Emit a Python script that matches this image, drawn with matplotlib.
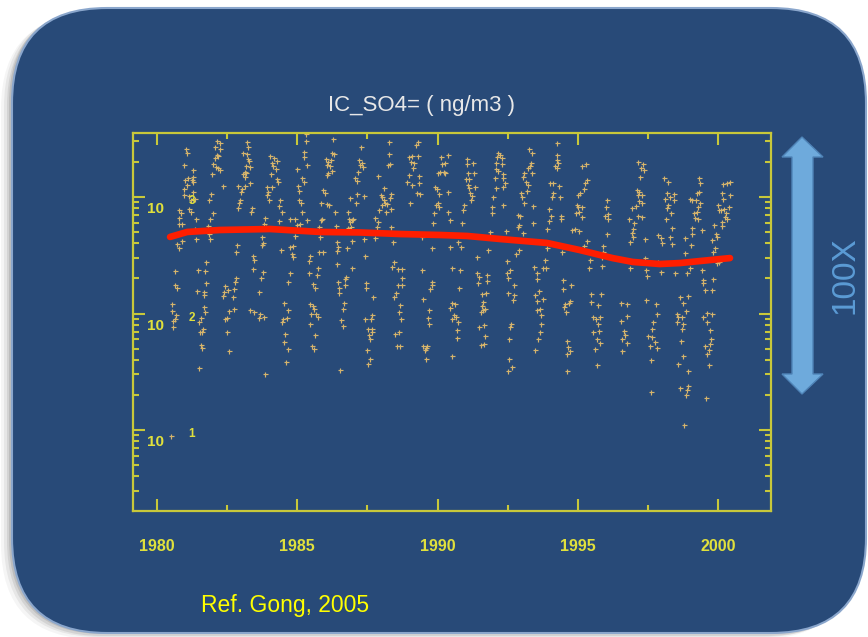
import numpy as np
import matplotlib
matplotlib.use("Agg")
import matplotlib.pyplot as plt
from matplotlib.patches import FancyBboxPatch, Polygon
from matplotlib import transforms
from matplotlib.ticker import FixedLocator, MultipleLocator, LogLocator, NullFormatter

# ---------------- data ----------------
title = "IC_SO4= ( ng/m3 )"
x_ticks = [1980, 1985, 1990, 1995, 2000]
y_ticks = [10, 100, 1000]
ref_text = "Ref. Gong, 2005"
arrow_text = "100X"

years = [
    # 1980/81
    1981.05, 1981.07, 1980.99, 1981.28, 1981.00, 1981.10, 1981.25, 1981.31, 1981.29, 1980.96,
    1980.99, 1981.07, 1981.15, 1981.23, 1981.35, 1981.31, 1980.81, 1980.86, 1981.17, 1981.21,
    1980.79, 1980.78, 1980.90, 1981.41, 1981.38, 1980.72, 1980.80, 1980.90, 1981.42, 1980.66,
    1981.47, 1980.64, 1980.72, 1981.43, 1980.56, 1980.55, 1980.69, 1980.60, 1980.64, 1980.60,
    1980.50,
    # 1981/82
    1982.14, 1982.26, 1982.09, 1982.26, 1982.14, 1982.20, 1982.08, 1982.02, 1982.12, 1982.20,
    1982.24, 1981.98, 1982.36, 1981.95, 1981.86, 1982.02, 1981.90, 1981.82, 1981.87, 1981.90,
    1981.76, 1981.74, 1981.76, 1981.69, 1981.67, 1981.69, 1981.73, 1981.57, 1981.50, 1981.64,
    1981.55, 1981.63, 1981.57, 1981.61, 1981.51,
    # 1982/83
    1983.21, 1983.24, 1983.09, 1983.23, 1983.27, 1983.30, 1983.19, 1983.33, 1983.15, 1983.09,
    1983.19, 1983.13, 1983.33, 1982.99, 1983.03, 1982.97, 1982.95, 1982.90, 1982.88, 1983.14,
    1983.39, 1983.36, 1982.85, 1982.83, 1982.81, 1982.79, 1982.45, 1982.55, 1982.41, 1982.38,
    1982.74, 1982.71, 1982.57, 1982.74, 1982.50, 1982.45, 1982.51, 1982.57, 1983.42, 1983.45,
    1983.42, 1983.77, 1983.70, 1983.64,
    # 1983/84
    1984.02, 1984.18, 1984.30, 1984.11, 1984.16, 1984.25, 1984.06, 1984.28, 1984.31, 1984.10,
    1983.98, 1983.94, 1984.00, 1983.92, 1984.40, 1984.37, 1984.45, 1984.36, 1983.86, 1983.84,
    1983.90, 1983.78, 1983.74, 1983.75, 1983.48, 1983.68, 1983.66, 1983.84, 1983.86, 1983.33,
    # 1984/85
    1984.99, 1985.25, 1985.26, 1985.34, 1985.17, 1985.23, 1985.02, 1985.06, 1985.08, 1985.14,
    1985.17, 1984.94, 1984.75, 1985.00, 1985.37, 1985.11, 1984.93, 1984.85, 1984.75, 1984.81,
    1984.87, 1984.43, 1984.75, 1984.68, 1984.54, 1984.69, 1984.51, 1984.63, 1984.48, 1984.57,
    1984.53, 1984.67, 1984.61, 1985.41, 1985.44, 1985.32, 1985.32,
    # 1985/86
    1986.29, 1986.23, 1986.32, 1986.02, 1986.11, 1986.21, 1986.05, 1986.17, 1986.23, 1986.11,
    1986.06, 1985.94, 1985.99, 1985.84, 1986.05, 1986.13, 1986.35, 1985.90, 1985.85, 1985.79,
    1985.81, 1986.37, 1986.41, 1986.44, 1986.41, 1985.93, 1985.78, 1985.46, 1985.73, 1985.70,
    1986.42, 1985.58, 1985.64, 1986.47, 1986.49, 1986.50, 1985.46, 1985.58, 1985.61, 1985.49,
    1985.69, 1985.73, 1985.46, 1985.64, 1985.54, 1985.60, 1986.53,
    # 1986/87
    1987.26, 1987.20, 1987.30, 1987.24, 1987.36, 1987.18, 1987.06, 1987.15, 1986.88, 1987.12,
    1987.09, 1987.38, 1986.82, 1986.85, 1986.94, 1987.00, 1986.88, 1986.80, 1986.92, 1986.96,
    1986.76, 1987.39, 1987.43, 1986.95, 1986.74, 1986.70, 1986.70, 1987.45, 1987.47, 1986.66,
    1986.64, 1986.58, 1986.64, 1987.69, 1987.41, 1987.63, 1987.65, 1987.51, 1987.65, 1987.68,
    1987.57, 1987.59, 1987.49, 1987.58, 1987.53,
    # 1987/88
    1988.27, 1988.28, 1988.30, 1988.22, 1987.89, 1988.08, 1987.98, 1988.04, 1988.10, 1988.13,
    1988.19, 1988.01, 1987.91, 1988.16, 1988.34, 1988.30, 1988.36, 1987.79, 1987.87, 1987.83,
    1988.36, 1987.77, 1988.42, 1988.44, 1988.39, 1988.58, 1988.74, 1988.72, 1988.60, 1988.73,
    1988.51, 1988.46, 1988.67, 1988.62, 1988.70, 1988.64, 1988.48, 1988.54, 1988.66,
    # 1988/89
    1989.23, 1989.31, 1989.10, 1988.98, 1989.05, 1989.17, 1989.29, 1989.13, 1988.98, 1988.93,
    1989.08, 1989.34, 1989.34, 1989.26, 1989.38, 1989.03, 1989.43, 1989.46, 1989.79, 1989.74,
    1989.81, 1989.47, 1989.69, 1989.67, 1989.68, 1989.50, 1989.59, 1989.64, 1989.55, 1989.60,
    # 1989/90
    1990.11, 1990.36, 1990.26, 1990.17, 1990.26, 1990.08, 1990.00, 1990.24, 1990.36, 1989.91,
    1989.98, 1990.05, 1990.02, 1989.96, 1990.07, 1989.88, 1989.85, 1990.38, 1990.43, 1989.82,
    1990.44, 1990.74, 1990.83, 1990.50, 1990.80, 1990.75, 1990.52, 1990.61, 1990.46, 1990.50,
    1990.57, 1990.64, 1990.74, 1990.69, 1990.70, 1990.53, 1990.95, 1990.89, 1990.88,
    # 1990/91
    1991.04, 1991.06, 1991.25, 1991.10, 1991.30, 1991.01, 1991.13, 1991.33, 1991.08, 1991.13,
    1991.16, 1991.22, 1991.19, 1991.87, 1991.39, 1991.81, 1991.42, 1991.46, 1991.45, 1991.75,
    1991.77, 1991.57, 1991.73, 1991.61, 1991.57, 1991.54, 1991.63, 1991.70, 1991.67, 1991.49,
    1991.69, 1991.65, 1991.54,
    # 1991/92
    1992.16, 1992.22, 1992.10, 1992.28, 1992.08, 1992.28, 1992.08, 1992.16, 1992.32, 1992.34,
    1992.05, 1992.40, 1992.34, 1992.07, 1991.99, 1991.93, 1991.95, 1992.34, 1992.42, 1992.46,
    1992.46, 1992.58, 1992.50, 1992.72, 1992.52, 1992.72, 1992.70, 1992.60, 1992.58, 1992.56,
    1992.56, 1992.64, 1992.50,
    # 1992/93
    1993.24, 1993.35, 1993.31, 1993.29, 1993.23, 1993.35, 1993.08, 1993.03, 1993.15, 1993.23,
    1993.17, 1992.96, 1992.99, 1993.08, 1993.39, 1992.93, 1992.88, 1992.91, 1992.85, 1993.05,
    1993.39, 1992.89, 1992.79, 1993.43, 1993.55, 1993.54, 1993.77, 1993.86, 1993.60, 1993.47,
    1993.55, 1993.53, 1993.65, 1993.77, 1993.68, 1993.67, 1993.65, 1993.56, 1993.46,
    # 1993/94
    1994.24, 1994.26, 1994.24, 1994.29, 1994.18, 1994.24, 1994.12, 1994.00, 1994.12, 1994.06,
    1994.33, 1994.36, 1993.98, 1994.03, 1993.95, 1994.38, 1994.39, 1993.88, 1993.94, 1993.91,
    1993.82, 1994.43, 1994.48, 1994.75, 1994.45, 1994.71, 1994.69, 1994.54, 1994.51, 1994.57,
    1994.62, 1994.65, 1994.71, 1994.60, 1994.60,
    # 1994/95
    1995.28, 1995.13, 1995.31, 1995.25, 1995.21, 1995.07, 1995.01, 1994.95, 1995.01, 1995.13,
    1994.93, 1995.05, 1995.16, 1994.78, 1994.89, 1995.05, 1995.33, 1995.21, 1995.43, 1995.88,
    1995.90, 1995.86, 1995.40, 1995.84, 1995.46, 1995.48, 1995.70, 1995.82, 1995.52, 1995.72,
    1995.78, 1995.64, 1995.54, 1995.76, 1995.66, 1995.78, 1995.60, 1995.66,
    # 1995/96
    1996.02, 1996.00, 1996.06, 1996.08, 1995.96, 1996.02,
    # 1996/97
    1997.15, 1997.33, 1997.25, 1997.36, 1997.21, 1997.09, 1997.17, 1997.29, 1997.13, 1997.17,
    1997.27, 1997.06, 1996.91, 1997.13, 1996.82, 1997.29, 1997.01, 1996.97, 1996.91, 1996.97,
    1996.85, 1997.39, 1997.39, 1996.85, 1997.41, 1997.46, 1996.52, 1996.74, 1996.76, 1996.53,
    1996.65, 1996.68, 1996.58, 1996.74, 1996.56, 1997.43,
    # 1997/98
    1998.06, 1998.22, 1998.16, 1998.10, 1998.28, 1998.43, 1998.40, 1998.22, 1998.16, 1998.31,
    1998.12, 1998.34, 1998.28, 1997.86, 1997.94, 1997.98, 1998.36, 1997.84, 1997.96, 1998.46,
    1997.78, 1997.80, 1997.68, 1997.65, 1997.62, 1997.48, 1997.57, 1997.74, 1997.80, 1997.59,
    1997.60,
    # 1998/99
    1999.29, 1999.34, 1999.31, 1999.23, 1999.07, 1999.19, 1999.00, 1999.34, 1999.26, 1999.23,
    1999.14, 1999.17, 1999.26, 1999.05, 1999.07, 1999.43, 1998.81, 1999.02, 1998.81, 1998.99,
    1998.88, 1999.43, 1999.46, 1999.45, 1998.63, 1998.93, 1998.75, 1998.83, 1998.51, 1998.55,
    1998.69, 1998.72, 1998.51, 1998.69, 1998.66, 1998.72, 1998.55, 1998.91, 1998.63, 1998.93,
    1998.87, 1998.83, 1998.77, 1999.52, 1999.76,
    # 1999/2000
    2000.17, 2000.29, 2000.41, 2000.12, 2000.41, 1999.99, 2000.17, 2000.09, 2000.02, 2000.21,
    2000.38, 2000.26, 2000.23, 2000.29, 2000.12, 2000.12, 1999.85, 1999.90, 1999.94, 1999.78,
    1999.88, 1999.82, 1999.94, 2000.02, 1999.82, 1999.46, 1999.58, 1999.60, 1999.76, 1999.69,
    1999.74, 1999.70, 1999.52, 1999.68, 1999.58, 1999.66, 1999.55,
]

so4 = [
    # 1980/81
    2580, 2370, 1895, 1706, 1410, 1465, 1400, 1355, 1475, 1040,
    1165, 1268, 1020, 942, 955, 1110, 773, 734, 783, 748,
    656, 590, 586, 643, 535, 393, 368, 422, 436, 230,
    234, 176, 167, 155, 121, 106, 97, 87, 90, 77,
    8.9,
    # 1981/82
    3030, 2925, 2703, 2580, 2290, 2245, 2145, 1905, 1821, 1760,
    1706, 1565, 1250, 1067, 948, 724, 643, 567, 485, 440,
    275, 232, 182, 152, 145, 114, 104, 92, 84, 73,
    70, 69, 54, 51, 34,
    # 1982/83
    2945, 2670, 2370, 2340, 2105, 2040, 1845, 1798, 1650, 1577,
    1618, 1484, 1327, 1110, 1163, 936, 883, 810, 1243, 1243,
    800, 748, 387, 337, 203, 188, 173, 159, 154, 142,
    161, 139, 105, 110, 92, 89, 70, 48, 314, 288,
    239, 228, 200, 154,
    # 1983/84
    2260, 2145, 2050, 1945, 1845, 1728, 1587, 1418, 1355, 1227,
    1110, 1040, 942, 1227, 942, 837, 748, 626, 656, 586,
    556, 400, 450, 387, 103, 99, 92, 93, 30, 107,
    # 1984/85
    1728, 2450, 2218, 1880, 1450, 1355, 1243, 1125, 942, 895,
    748, 647, 647, 575, 634, 586, 462, 382, 375, 324,
    308, 351, 224, 188, 122, 108, 89, 91, 84, 67,
    57, 50, 38, 284, 224, 3470, 3050,
    # 1985/86
    3120, 2400, 2340, 2120, 2010, 2078, 1880, 1845, 1684, 1597,
    1545, 1148, 1088, 895, 870, 848, 748, 652, 634, 556,
    456, 563, 414, 375, 346, 338, 335, 310, 247, 216,
    268, 178, 165, 188, 165, 149, 121, 116, 110, 100,
    99, 94, 82, 66, 53, 50, 33,
    # 1986/87
    2703, 2078, 1970, 1880, 1821, 1650, 1450, 1380, 987, 1060,
    883, 1020, 748, 643, 634, 643, 614, 545, 549, 422,
    363, 440, 312, 244, 205, 197, 176, 182, 165, 124,
    110, 88, 78, 138, 90, 89, 98, 74, 73, 70,
    65, 60, 49, 41, 37,
    # 1987/88
    2985, 2340, 1905, 1895, 1525, 1187, 1040, 1006, 942, 895,
    870, 855, 773, 748, 1060, 975, 783, 656, 610, 556,
    549, 442, 408, 279, 249, 241, 239, 203, 176, 176,
    151, 138, 118, 103, 89, 69, 67, 53, 53,
    # 1988/89
    2800, 2985, 2245, 2218, 2010, 1945, 2245, 1760, 1545, 1355,
    1268, 1515, 1309, 1088, 1060, 895, 456, 234, 188, 161,
    176, 133, 107, 91, 82, 53, 51, 53, 49, 41,
    # 1989/90
    2190, 2280, 1945, 1905, 1597, 1650, 1597, 1650, 1110, 1227,
    1165, 1060, 895, 855, 815, 724, 594, 748, 634, 368,
    375, 414, 375, 247, 236, 165, 122, 120, 112, 89,
    97, 94, 85, 72, 62, 43, 855, 773, 594,
    # 1990/91
    2105, 1905, 1945, 1597, 1597, 1418, 1418, 1227, 1268, 1187,
    1074, 1020, 942, 504, 308, 351, 224, 207, 182, 216,
    191, 146, 151, 126, 116, 103, 107, 110, 79, 76,
    64, 55, 54,
    # 1991/92
    2370, 2290, 2190, 2145, 1945, 1905, 1728, 1684, 1565, 1450,
    1450, 1309, 1227, 1187, 994, 815, 734, 848, 514, 284,
    224, 236, 200, 175, 149, 144, 131, 82, 76, 61,
    41, 35, 32,
    # 1992/93
    2560, 2400, 1970, 1845, 1760, 1597, 1597, 1494, 1355, 1268,
    1133, 1088, 1006, 895, 837, 687, 700, 575, 556, 488,
    594, 351, 324, 249, 221, 197, 244, 244, 156, 145,
    129, 107, 110, 133, 97, 82, 70, 60, 49,
    # 1993/94
    2925, 2290, 2078, 1945, 1855, 1760, 1327, 1309, 1074, 994,
    1243, 994, 788, 687, 626, 690, 643, 528, 414, 363,
    288, 335, 194, 175, 161, 129, 122, 121, 114, 103,
    58, 52, 48, 45, 32,
    # 1994/95
    1905, 1845, 1400, 1327, 1165, 1074, 1040, 855, 815, 826,
    724, 748, 670, 521, 531, 510, 419, 380, 288, 382,
    339, 304, 244, 256, 147, 126, 118, 147, 94, 82,
    94, 89, 70, 71, 60, 56, 50, 36,
    # 1995/96
    942, 826, 716, 643, 687, 482,
    # 1996/97
    1985, 1905, 1760, 1706, 1475, 1148, 1110, 1040, 1040, 924,
    895, 840, 810, 692, 643, 670, 602, 528, 494, 456,
    414, 433, 298, 244, 236, 211, 124, 121, 96, 87,
    71, 66, 60, 56, 48, 131,
    # 1997/98
    1465, 1355, 1074, 955, 1006, 1060, 942, 855, 800, 734,
    643, 538, 456, 470, 442, 405, 395, 277, 228, 221,
    120, 100, 85, 74, 63, 64, 53, 57, 51, 40,
    21,
    # 1998/99
    1450, 1327, 1110, 1074, 942, 942, 955, 895, 826, 748,
    724, 656, 643, 538, 481, 521, 442, 387, 328, 244,
    224, 236, 194, 182, 139, 141, 122, 105, 100, 94,
    94, 81, 85, 74, 58, 43, 37, 32, 23, 24,
    22, 20, 11, 159, 159,
    # 1999/2000
    1292, 1309, 1336, 1074, 1040, 855, 955, 773, 773, 783,
    826, 724, 670, 643, 614, 563, 575, 481, 456, 428,
    363, 339, 270, 279, 199, 94, 85, 101, 100, 72,
    60, 55, 53, 49, 45, 36, 19,
]

trend_year = [1980.48, 1981.09, 1982.26, 1984.04, 1985.82, 1987.24, 1988.67, 1990.09,
              1991.05, 1992.22, 1993.90, 1995.05, 1996.23, 1996.95, 1997.91, 1998.63,
              1999.34, 2000.41]
trend_so4 = [454, 501, 521, 531, 501, 496, 481, 472,
             463, 436, 403, 351, 299, 277, 266, 271,
             282, 299]

assert len(years) == len(so4)

# ---------------- styling ----------------
W, H = 868, 637
slide_blue = '#284a78'
axis_col = '#c8c83a'
label_col = '#e0e03c'
point_col = '#d6b46c'
line_col = '#ff1e00'

fig = plt.figure(figsize=(W / 100, H / 100), dpi=100, facecolor='white')

# background slide (pixel coordinates)
bg = fig.add_axes([0, 0, 1, 1])
bg.set_xlim(0, W)
bg.set_ylim(H, 0)
bg.axis('off')
for dx, dy, a in [(-11, 6, 0.04), (-8, 4, 0.06), (-5, 3, 0.08), (-3, 1, 0.10)]:
    bg.add_patch(FancyBboxPatch((12 + dx, 8 + dy), 854, 625,
                                boxstyle="round,pad=0,rounding_size=95",
                                fc='black', ec='none', alpha=a))
bg.add_patch(FancyBboxPatch((12, 8), 854, 625,
                            boxstyle="round,pad=0,rounding_size=95",
                            fc=slide_blue, ec='#8aa6cc', lw=1.5))

# double arrow
arrow = Polygon([(802, 137), (823, 157), (813, 157), (813, 374), (823, 374),
                 (802, 394), (782, 374), (792, 374), (792, 157), (782, 157)],
                closed=True, fc='#6eaadc', ec='#4f84b8', lw=1.0)
bg.add_patch(arrow)
bg.text(845, 275, arrow_text, rotation=90, color='#5b9bd5', fontsize=24,
        family='Liberation Sans', ha='center', va='center')
bg.text(201, 612, ref_text, color='#ffff00', fontsize=16.5,
        family='Liberation Sans', ha='left', va='baseline')

# plot axes
ax = fig.add_axes([133 / W, (H - 511) / H, (771 - 133) / W, (511 - 133) / H])
ax.set_facecolor('none')
ax.set_yscale('log')
ax.set_xlim(1979.16, 2001.87)
ax.set_ylim(2.02, 3540)

ax.plot(years, so4, '+', ms=3.6, mew=0.85, color=point_col, zorder=2)
ax.plot(trend_year, trend_so4, color=line_col, lw=4.8, solid_capstyle='round',
        solid_joinstyle='round', zorder=3)

for s in ax.spines.values():
    s.set_color(axis_col)
    s.set_linewidth(1.6)

ax.xaxis.set_major_locator(FixedLocator(x_ticks))
ax.xaxis.set_minor_locator(MultipleLocator(2.5))
ax.yaxis.set_major_locator(LogLocator(base=10))
ax.yaxis.set_minor_locator(LogLocator(base=10, subs=np.arange(2, 10)))
ax.yaxis.set_minor_formatter(NullFormatter())
ax.tick_params(which='both', direction='in', top=True, right=True,
               color=axis_col, width=1.5)
ax.tick_params(which='major', length=8.5)
ax.tick_params(which='minor', length=4.5)
ax.tick_params(axis='x', which='major', pad=20, labelcolor=label_col, labelsize=11.5)
ax.tick_params(axis='y', labelleft=False)
ax.set_xticklabels([str(t) for t in x_ticks], fontweight='bold', family='Liberation Sans')

# y tick labels "10" with exponent, drawn inside the frame
ytrans = ax.get_yaxis_transform()
t_base = transforms.offset_copy(ytrans, fig=fig, x=0, y=-12, units='dots')
t_exp = transforms.offset_copy(ytrans, fig=fig, x=0, y=-4, units='dots')
for v in y_ticks:
    e = int(round(np.log10(v)))
    ax.text(22 / 638, v, "10", transform=t_base, color=label_col, fontsize=11,
            fontweight='bold', family='Liberation Sans', ha='center', va='center',
            zorder=5)
    ax.text(59 / 638, v, str(e), transform=t_exp, color=label_col, fontsize=8.5,
            fontweight='bold', family='Liberation Sans', ha='center', va='center',
            zorder=5)

fig.text(421 / W, 1 - 105 / H, title, color='#e8e8e8', fontsize=16,
         family='Liberation Sans', ha='center', va='center')

fig.savefig('out.png', dpi=100, facecolor='white')
